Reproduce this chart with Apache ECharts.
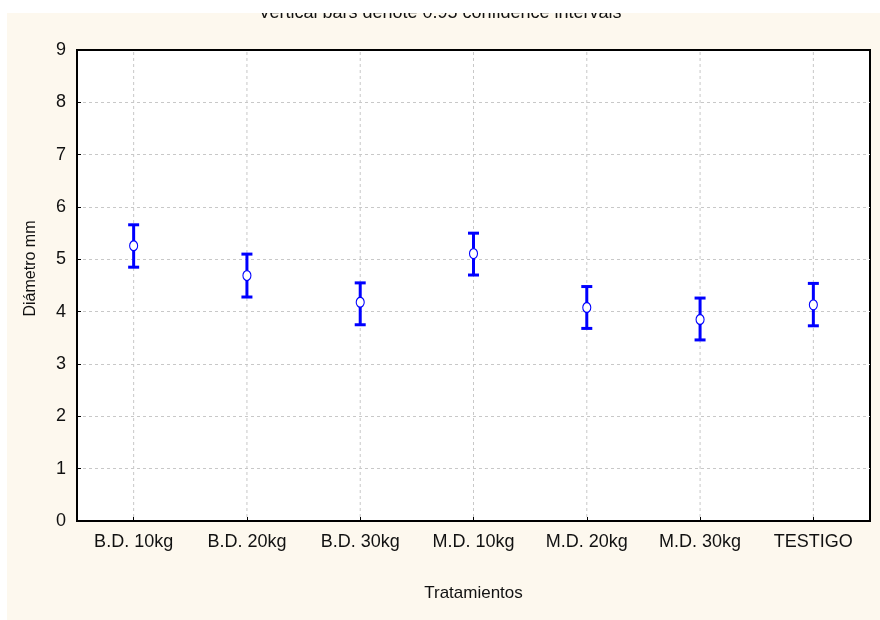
<!DOCTYPE html>
<html>
<head>
<meta charset="utf-8">
<script src="https://cdn.jsdelivr.net/npm/echarts@6/dist/echarts.min.js"></script>
<style>
  html, body { margin: 0; padding: 0; background: #ffffff; }
  #wrap { position: relative; width: 880px; height: 620px; overflow: hidden; }
  #panel { position: absolute; left: 7px; top: 13px; right: 0; bottom: 0; background: #fdf8ee; }
  #chart { position: absolute; left: 0; top: 0; width: 880px; height: 620px; }
  #topband { position: absolute; left: 0; top: 0; width: 880px; height: 13px; background: #ffffff; }
</style>
</head>
<body>
<div id="wrap">
  <div id="panel"></div>
  <div id="chart"></div>
  <div id="topband"></div>
</div>
<script>
// Treatments and mean stem diameter (mm) with 95% confidence limits
const categories = ['B.D. 10kg', 'B.D. 20kg', 'B.D. 30kg', 'M.D. 10kg', 'M.D. 20kg', 'M.D. 30kg', 'TESTIGO'];
const means = [5.26, 4.69, 4.18, 5.11, 4.08, 3.85, 4.13];
const upper = [5.66, 5.10, 4.55, 5.50, 4.48, 4.26, 4.54];
const lower = [4.85, 4.28, 3.75, 4.70, 3.68, 3.46, 3.73];
const yTicks = [0, 1, 2, 3, 4, 5, 6, 7, 8, 9];

const FONT = '"Liberation Sans", Arial, sans-serif';
const BLUE = '#0000ff';
const GRID_LINE = { color: '#c8c8c8', type: [3, 3], width: 1 };

const chart = echarts.init(document.getElementById('chart'), null, { renderer: 'canvas' });

const intervalData = categories.map((c, i) => [i, lower[i], upper[i]]);

chart.setOption({
  backgroundColor: 'transparent',
  animation: false,
  title: {
    text: 'Vertical bars denote 0.95 confidence intervals',
    left: 'center',
    top: -1,
    textStyle: { fontFamily: FONT, fontSize: 18, fontWeight: 'normal', color: '#111' }
  },
  grid: {
    left: 77, right: 10, top: 50, bottom: 99,
    show: true, backgroundColor: '#ffffff', borderColor: '#000', borderWidth: 2,
    containLabel: false
  },
  xAxis: {
    type: 'category',
    data: categories,
    name: 'Tratamientos',
    nameLocation: 'middle',
    nameGap: 64,
    nameTextStyle: { fontFamily: FONT, fontSize: 17, color: '#111' },
    axisLine: { show: true, lineStyle: { color: '#000', width: 2 } },
    axisTick: { show: true, inside: true, length: 4, alignWithLabel: true, lineStyle: { color: '#000', width: 1 } },
    axisLabel: { fontFamily: FONT, fontSize: 18, color: '#111', margin: 12 },
    splitLine: { show: false }
  },
  yAxis: {
    type: 'value',
    min: yTicks[0],
    max: yTicks[yTicks.length - 1],
    interval: 1,
    name: 'Diámetro mm',
    nameLocation: 'middle',
    nameGap: 38,
    nameTextStyle: { fontFamily: FONT, fontSize: 16, color: '#111', padding: [0, 0, 0, 34] },
    axisLine: { show: true, lineStyle: { color: '#000', width: 2 } },
    axisTick: { show: true, inside: true, length: 4, lineStyle: { color: '#000', width: 1 } },
    axisLabel: { fontFamily: FONT, fontSize: 18, color: '#111', margin: 11 },
    splitLine: { show: true, showMinLine: false, showMaxLine: false, lineStyle: GRID_LINE }
  },
  series: [
    {
      // vertical dashed guides through each treatment
      type: 'custom',
      name: 'guides',
      data: categories.map((c, i) => [i]),
      z: 1,
      silent: true,
      renderItem: function (params, api) {
        const x = api.value(0);
        const bottom = api.coord([x, yTicks[0]]);
        const top = api.coord([x, yTicks[yTicks.length - 1]]);
        return {
          type: 'line',
          shape: { x1: bottom[0], y1: bottom[1] - 4, x2: top[0], y2: top[1] + 1 },
          style: { stroke: GRID_LINE.color, lineWidth: 1, lineDash: [3, 3] }
        };
      }
    },
    {
      type: 'custom',
      name: 'CI',
      data: intervalData,
      z: 3,
      renderItem: function (params, api) {
        const x = api.value(0);
        const lo = api.coord([x, api.value(1)]);
        const hi = api.coord([x, api.value(2)]);
        const half = 5.5;
        const style = { stroke: BLUE, lineWidth: 3, fill: null };
        return {
          type: 'group',
          children: [
            { type: 'line', shape: { x1: hi[0], y1: hi[1], x2: lo[0], y2: lo[1] }, style: style },
            { type: 'line', shape: { x1: hi[0] - half, y1: hi[1], x2: hi[0] + half, y2: hi[1] }, style: style },
            { type: 'line', shape: { x1: lo[0] - half, y1: lo[1], x2: lo[0] + half, y2: lo[1] }, style: style }
          ]
        };
      }
    },
    {
      type: 'scatter',
      name: 'Media',
      data: means,
      z: 4,
      symbol: 'circle',
      symbolSize: [8, 10],
      itemStyle: { color: '#ffffff', borderColor: BLUE, borderWidth: 1.2, opacity: 1 }
    }
  ]
});
</script>
</body>
</html>
